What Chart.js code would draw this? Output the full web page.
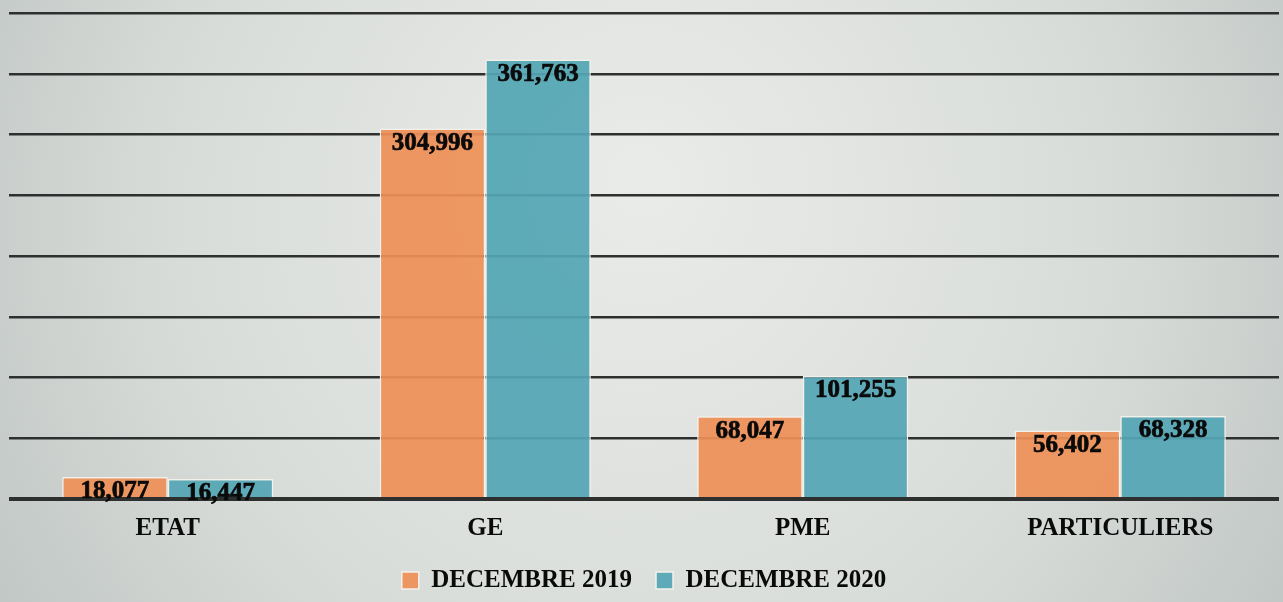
<!DOCTYPE html>
<html>
<head>
<meta charset="utf-8">
<script src="https://cdn.jsdelivr.net/npm/chart.js@4"></script>
<style>
  html, body { margin: 0; padding: 0; background: #d6d9d6; }
  #wrap { width: 1283px; height: 602px; }
</style>
</head>
<body>
<div id="wrap"><canvas id="myChart" width="1283" height="602"></canvas></div>
<script>
// data
let categories = ['ETAT', 'GE', 'PME', 'PARTICULIERS'];
let seriesNames = ['DECEMBRE 2019', 'DECEMBRE 2020'];
let dec2019 = [18077, 304996, 68047, 56402];
let dec2020 = [16447, 361763, 101255, 68328];

let serif = "'Liberation Serif', 'Times New Roman', serif";

// radial gray background
let bgPlugin = {
    id: 'bg',
    beforeDraw: function(chart) {
        let ctx = chart.ctx;
        let w = chart.width, h = chart.height;
        let g = ctx.createRadialGradient(w * 0.5, h * 0.3, 20, w * 0.5, h * 0.4, w * 0.6);
        g.addColorStop(0, '#e9ebe8');
        g.addColorStop(0.6, '#d8dcd9');
        g.addColorStop(1, '#bfc5c3');
        ctx.save();
        ctx.fillStyle = g;
        ctx.fillRect(0, 0, w, h);
        ctx.restore();
    }
};

// keep the legend a fixed height so the plot area lines up
let legendHeight = {
    id: 'legendHeight',
    beforeInit: function(chart) {
        let fit = chart.legend.fit;
        chart.legend.fit = function() {
            fit.call(this);
            this.height = 58;
        };
    }
};

// value labels inside the top of each bar
let valueLabels = {
    id: 'valueLabels',
    afterDatasetsDraw: function(chart) {
        let ctx = chart.ctx;
        ctx.save();
        ctx.font = 'bold 25px ' + serif;
        ctx.fillStyle = '#0a0a0a';
        ctx.strokeStyle = '#0a0a0a';
        ctx.lineWidth = 0.7;
        ctx.textAlign = 'center';
        ctx.textBaseline = 'middle';
        chart.data.datasets.forEach(function(ds, i) {
            chart.getDatasetMeta(i).data.forEach(function(bar, j) {
                let txt = ds.data[j].toLocaleString('en-US');
                ctx.fillText(txt, bar.x, bar.y + 15);
                ctx.strokeText(txt, bar.x, bar.y + 15);
            });
        });
        ctx.restore();
    }
};

let chart = new Chart(document.getElementById('myChart'), {
    type: 'bar',
    data: {
        labels: categories,
        datasets: [{
                label: seriesNames[0],
                data: dec2019,
                backgroundColor: 'rgba(238, 144, 88, 0.93)',
                borderColor: '#f4f1ea',
                borderWidth: 1.5,
                categoryPercentage: 0.665,
                barPercentage: 1.0
            },
            {
                label: seriesNames[1],
                data: dec2020,
                backgroundColor: 'rgba(84, 166, 181, 0.93)',
                borderColor: '#f4f1ea',
                borderWidth: 1.5,
                categoryPercentage: 0.665,
                barPercentage: 1.0
            }
        ]
    },
    options: {
        responsive: false,
        animation: false,
        layout: { padding: { top: 13, left: 9, right: 4, bottom: 0 } },
        plugins: {
            legend: {
                position: 'bottom',
                labels: {
                    boxWidth: 17,
                    boxHeight: 17,
                    padding: 24,
                    color: '#0a0a0a',
                    font: { family: serif, size: 25, weight: 'bold' }
                }
            },
            tooltip: { enabled: false }
        },
        scales: {
            x: {
                grid: { display: false, drawTicks: false },
                border: { display: false },
                ticks: {
                    color: '#0a0a0a',
                    padding: 15,
                    font: { family: serif, size: 25, weight: 'bold' }
                },
                afterFit: function(scale) { scale.height = 45; }
            },
            y: {
                min: 0,
                max: 400000,
                ticks: { display: false, stepSize: 50000 },
                border: { display: false },
                grid: {
                    color: '#2e302f',
                    lineWidth: function(c) { return c.index === 0 ? 4 : 2.5; },
                    drawTicks: false
                },
                afterFit: function(scale) { scale.width = 0; }
            }
        }
    },
    plugins: [bgPlugin, legendHeight, valueLabels]
});
</script>
</body>
</html>
